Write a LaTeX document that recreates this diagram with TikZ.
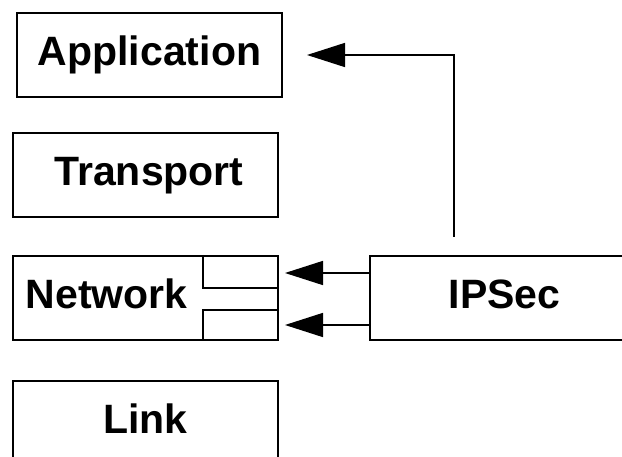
\documentclass[tikz,border=0pt]{standalone}
\usepackage{fontspec}
\setmainfont{Liberation Sans}
\usetikzlibrary{%
  arrows.meta,%
  positioning,% wg. " of "
  calc%
}

\begin{document}
\begin{tikzpicture}[
  x=1pt, y=-1pt,
  font=\fontsize{41}{49}\selectfont\bfseries,
  >={Triangle[length=38pt,width=24pt]},
  line width=1.5pt,
  layer/.style={draw, rectangle, anchor=north west, inner sep=0pt,
    line width=2pt, text height=30pt, text depth=8pt,
    minimum width=265pt, minimum height=84pt},
]
\useasboundingbox (0,0) rectangle (622,457);

\node[layer] (app)   at (16,12)   {Application};
\node[layer] (trans) at (12,132)  {\hspace{7pt}Transport};
\node[layer] (net)   at (12,255)  {};
\node[layer] (link)  at (12,380)  {Link};
\node[layer, minimum width=269pt] (ipsec) at (369,255) {IPSec};

\node[anchor=west, inner sep=0pt, text height=30pt, text depth=8pt]
  (nettext) at ([xshift=13pt]net.west) {Network};

% the two slots
\draw[line width=2pt] ([xshift=191pt]net.north west) |- ([yshift=10pt]net.east);
\draw[line width=2pt] ([yshift=-12pt]net.east) -| ([xshift=191pt]net.south west);

\coordinate (up) at (454,237);
\draw [->, shorten >=24pt] (up) |- (app.east);
\draw [->, shorten >=6pt] ([yshift=25pt]ipsec.west) -- ([yshift=25pt]net.east);
\draw [->, shorten >=6pt] ([yshift=-27pt]ipsec.west) -- ([yshift=-27pt]net.east);

\end{tikzpicture}
\end{document}
